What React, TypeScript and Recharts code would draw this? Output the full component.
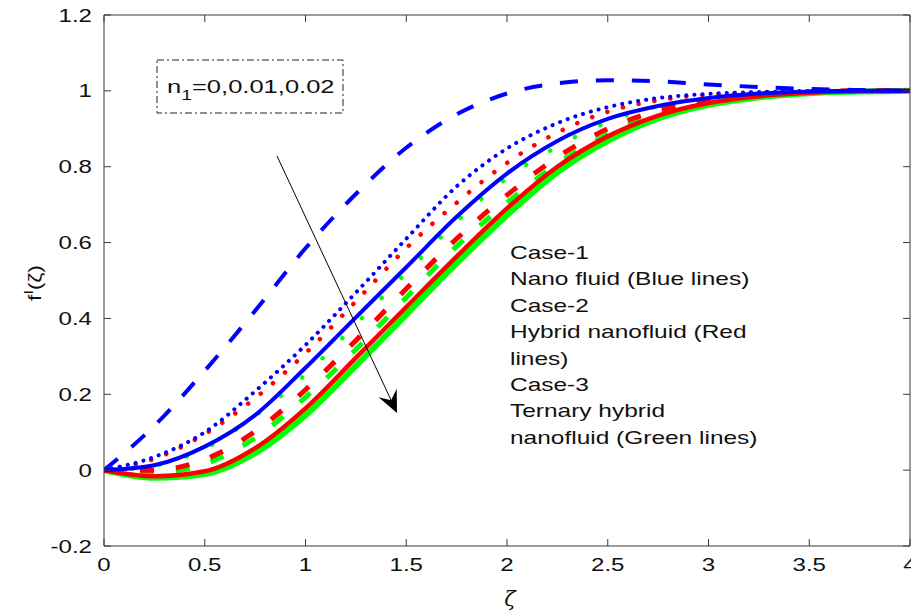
import { LineChart, Line, XAxis, YAxis } from 'recharts'

// similarity variable
const zeta = [0, 0.25, 0.5, 0.75, 1, 1.25, 1.5, 1.75, 2, 2.25, 2.5, 2.75, 3, 3.25, 3.5, 3.75, 4]

// f'(zeta) for n1 = 0, 0.01, 0.02 in each case
const blueDashed = [0, 0.117, 0.262, 0.42, 0.585, 0.728, 0.85, 0.938, 0.993, 1.02, 1.028, 1.025, 1.017, 1.01, 1.005, 1.002, 1.0]
const blueDotted = [0, 0.035, 0.1, 0.208, 0.33, 0.468, 0.61, 0.748, 0.848, 0.915, 0.957, 0.981, 0.992, 0.997, 0.999, 1.0, 1.0]
const blueSolid = [0, 0.013, 0.062, 0.145, 0.27, 0.403, 0.535, 0.668, 0.782, 0.868, 0.926, 0.96, 0.981, 0.993, 0.998, 1.0, 1.0]
const redDotted = [0, 0.03, 0.095, 0.19, 0.308, 0.445, 0.585, 0.705, 0.81, 0.89, 0.945, 0.975, 0.99, 0.996, 0.999, 1.0, 1.0]
const redDashed = [0, 0.0, 0.028, 0.102, 0.212, 0.342, 0.478, 0.61, 0.725, 0.825, 0.9, 0.948, 0.976, 0.99, 0.997, 1.0, 1.0]
const redSolid = [0, -0.016, -0.003, 0.058, 0.163, 0.296, 0.43, 0.563, 0.69, 0.8, 0.88, 0.935, 0.968, 0.986, 0.995, 0.999, 1.0]
const greenDotted = [0, 0.012, 0.057, 0.143, 0.252, 0.385, 0.52, 0.655, 0.77, 0.853, 0.918, 0.96, 0.982, 0.993, 0.998, 1.0, 1.0]
const greenDashed = [0, -0.006, 0.016, 0.085, 0.192, 0.318, 0.455, 0.59, 0.705, 0.808, 0.885, 0.938, 0.971, 0.988, 0.996, 0.999, 1.0]
const greenSolid = [0, -0.02, -0.01, 0.045, 0.145, 0.275, 0.41, 0.545, 0.672, 0.785, 0.868, 0.927, 0.963, 0.983, 0.994, 0.998, 1.0]

const xTicks = [0, 0.5, 1, 1.5, 2, 2.5, 3, 3.5, 4]
const yTicks = [-0.2, 0, 0.2, 0.4, 0.6, 0.8, 1, 1.2]

const caseNotes = [
  'Case-1',
  'Nano fluid (Blue lines)',
  'Case-2',
  'Hybrid nanofluid (Red',
  'lines)',
  'Case-3',
  'Ternary hybrid',
  'nanofluid (Green lines)',
]

const data = zeta.map((z, i) => ({
  z,
  bD: blueDashed[i],
  bO: blueDotted[i],
  bS: blueSolid[i],
  rO: redDotted[i],
  rD: redDashed[i],
  rS: redSolid[i],
  gO: greenDotted[i],
  gD: greenDashed[i],
  gS: greenSolid[i],
}))

const FONT = '"Liberation Sans", Arial, Helvetica, sans-serif'
const AXIS = '#3a3a3a'
const TICK = 7
const STRETCH = 1.3 // the source picture is widened horizontally

const BottomTick = (props: any) => {
  const { x, y, payload } = props
  return (
    <g>
      <line x1={x} y1={y} x2={x} y2={y - TICK} stroke={AXIS} />
      <text transform={`translate(${x},${y + 25}) scale(${STRETCH},1)`} textAnchor="middle" fontSize={18.5} fontFamily={FONT} fill="#111">
        {String(payload.value)}
      </text>
    </g>
  )
}

const TopTick = (props: any) => {
  const { x, y } = props
  return <line x1={x} y1={y} x2={x} y2={y + TICK} stroke={AXIS} />
}

const LeftTick = (props: any) => {
  const { x, y, payload } = props
  return (
    <g>
      <line x1={x} y1={y} x2={x + TICK} y2={y} stroke={AXIS} />
      <text transform={`translate(${x - 12},${y + 6.5}) scale(${STRETCH},1)`} textAnchor="end" fontSize={18.5} fontFamily={FONT} fill="#111">
        {String(payload.value)}
      </text>
    </g>
  )
}

const RightTick = (props: any) => {
  const { x, y } = props
  return <line x1={x} y1={y} x2={x - TICK} y2={y} stroke={AXIS} />
}

export default function App() {
  return (
    <div style={{ position: 'absolute', left: 0, top: 0, width: 911, height: 613, background: '#fff' }}>
      <LineChart width={911} height={613} data={data} margin={{ top: 0, right: 0, bottom: 0, left: 0 }}>
        <XAxis
          dataKey="z"
          type="number"
          domain={[0, 4]}
          ticks={xTicks}
          height={67}
          tickSize={0}
          tickMargin={0}
          tickLine={false}
          axisLine={{ stroke: AXIS }}
          tick={<BottomTick />}
          interval={0}
          allowDataOverflow
        />
        <XAxis
          xAxisId="top"
          orientation="top"
          dataKey="z"
          type="number"
          domain={[0, 4]}
          ticks={xTicks}
          height={15}
          tickSize={0}
          tickMargin={0}
          tickLine={false}
          axisLine={{ stroke: AXIS }}
          tick={<TopTick />}
          interval={0}
          allowDataOverflow
        />
        <YAxis
          type="number"
          domain={[-0.2, 1.2]}
          ticks={yTicks}
          width={104}
          tickSize={0}
          tickMargin={0}
          tickLine={false}
          axisLine={{ stroke: AXIS }}
          tick={<LeftTick />}
          interval={0}
          allowDataOverflow
        />
        <YAxis
          yAxisId="right"
          orientation="right"
          type="number"
          domain={[-0.2, 1.2]}
          ticks={yTicks}
          width={1}
          tickSize={0}
          tickMargin={0}
          tickLine={false}
          axisLine={{ stroke: AXIS }}
          tick={<RightTick />}
          interval={0}
          allowDataOverflow
        />
        <Line type="monotone" dataKey="gS" stroke="#00ff00" strokeWidth={6} dot={false} isAnimationActive={false} />
        <Line type="monotone" dataKey="gD" stroke="#00ff00" strokeWidth={5} strokeDasharray="14 22" dot={false} isAnimationActive={false} />
        <Line type="monotone" dataKey="gO" stroke="#00ff00" strokeWidth={4.5} strokeDasharray="0.1 28" strokeLinecap="round" dot={false} isAnimationActive={false} />
        <Line type="monotone" dataKey="rS" stroke="#ff0000" strokeWidth={4.5} dot={false} isAnimationActive={false} />
        <Line type="monotone" dataKey="rD" stroke="#ff0000" strokeWidth={5} strokeDasharray="14 22" dot={false} isAnimationActive={false} />
        <Line type="monotone" dataKey="rO" stroke="#ff0000" strokeWidth={4.5} strokeDasharray="0.1 16" strokeLinecap="round" dot={false} isAnimationActive={false} />
        <Line type="monotone" dataKey="bS" stroke="#0000ff" strokeWidth={4} dot={false} isAnimationActive={false} />
        <Line type="monotone" dataKey="bO" stroke="#0000ff" strokeWidth={4} strokeDasharray="0.1 8" strokeLinecap="round" dot={false} isAnimationActive={false} />
        <Line type="monotone" dataKey="bD" stroke="#0000ff" strokeWidth={4} strokeDasharray="18 18" dot={false} isAnimationActive={false} />
      </LineChart>

      <svg
        width={911}
        height={613}
        style={{ position: 'absolute', left: 0, top: 0, pointerEvents: 'none' }}
        fontFamily={FONT}
      >
        {/* n1 legend box */}
        <rect x={157} y={60} width={186} height={53} fill="none" stroke="#222" strokeWidth={1} strokeDasharray="7 3 2 3" />
        <text transform="translate(167,93) scale(1.38,1)" fontSize={18.5} fill="#111">
          n<tspan fontSize={14} dy={7}>1</tspan>
          <tspan dy={-7}>=0,0.01,0.02</tspan>
        </text>

        {/* trend arrow */}
        <line x1={277} y1={156} x2={391} y2={400} stroke="#000" strokeWidth={1} />
        <polygon points="397,413 378.6,397.3 391.1,400.3 396.7,388.8" fill="#000" />

        {caseNotes.map((t, i) => (
          <text key={t} transform={`translate(510,${259 + i * 26.4}) scale(1.36,1)`} fontSize={18} fill="#111">
            {t}
          </text>
        ))}

        {/* axis titles */}
        <text transform="translate(41,283) rotate(-90) scale(1.2,1)" textAnchor="middle" fontSize={19} fill="#111">
          f<tspan fontSize={13} dy={-8}>I</tspan>
          <tspan dy={8}>(ζ)</tspan>
        </text>
        <text x={510} y={606} textAnchor="middle" fontSize={21} fontStyle="italic" fontFamily="'DejaVu Serif', serif" fill="#111">
          ζ
        </text>
      </svg>
    </div>
  )
}
